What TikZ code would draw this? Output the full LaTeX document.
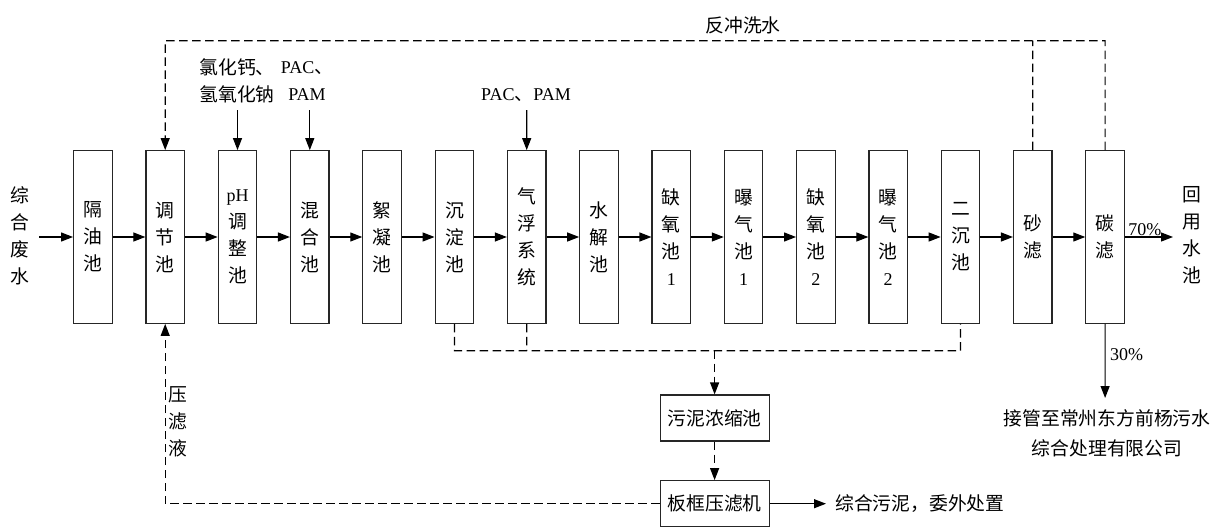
\documentclass[tikz,border=0pt]{standalone}
\usepackage{fontspec}
\setmainfont{Noto Sans CJK SC}
\newfontfamily\enf{Liberation Serif}
\newcommand\lat[1]{{\enf\fontsize{18}{27}\selectfont #1}}
\usetikzlibrary{arrows.meta}
\begin{document}
\begin{tikzpicture}[x=1pt,y=-1pt,
  every node/.style={font=\fontsize{18.8}{27}\selectfont, inner sep=0pt},
  tank/.style={draw=black!85, line width=1.2pt, minimum width=38.5pt, minimum height=172.6pt, align=center},
  sbox/.style={draw=black!85, line width=1.2pt, minimum width=109pt, minimum height=46pt},
  arr/.style={line width=1.2pt, -{Triangle[length=12pt,width=9pt]}},
  dline/.style={line width=1.2pt, dash pattern=on 8.5pt off 4.5pt},
  darr/.style={dline, -{Triangle[length=12pt,width=9pt]}},
]
\useasboundingbox (0,0) rectangle (1217,527);
\fill[white] (0,0) rectangle (1217,527);

% process tanks
\foreach \i/\t in {0/{隔\\油\\池}, 1/{调\\节\\池}, 2/{\lat{pH}\\调\\整\\池}, 3/{混\\合\\池},
  4/{絮\\凝\\池}, 5/{沉\\淀\\池}, 6/{气\\浮\\系\\统}, 7/{水\\解\\池},
  8/{缺\\氧\\池\\\lat{1}}, 9/{曝\\气\\池\\\lat{1}}, 10/{缺\\氧\\池\\\lat{2}},
  11/{曝\\气\\池\\\lat{2}}, 12/{二\\沉\\池}, 13/{砂\\滤}, 14/{碳\\滤}}
  \node[tank] (b\i) at ({92.9+72.3*\i},237) {\t};

\foreach \i [evaluate=\i as \j using int(\i+1)] in {0,...,13}
  \draw[arr] (b\i.east) -- (b\j.west);

% input
\node[align=center] (in0) at (20,236) {综\\合\\废\\水};
\coordinate (inS) at (39,237);
\draw[arr] (inS) -- (b0.west);

% output 70%
\coordinate (outE) at (1173,237);
\draw[arr] (b14.east) -- (outE) node[midway, above=1pt, xshift=-4pt] (p70) {\lat{70\%}};
\node[align=center] (reuse) at (1192,235) {回\\用\\水\\池};

% chemicals
\node[align=center] (chem1) at (237,81) {氯化钙、\\氢氧化钠};
\node[align=center] (chem2) at (307,81) {\lat{PAC}、\\\lat{PAM}};
\node (chem3) at (526,95) {\lat{PAC}、\lat{PAM}};
\coordinate (c1) at (237.5,110);
\coordinate (c2) at (309.8,110);
\coordinate (c3) at (526.7,110);
\draw[arr] (c1) -- (b2.north);
\draw[arr] (c2) -- (b3.north);
\draw[arr] (c3) -- (b6.north);

% backwash
\coordinate (tR) at (1105.1,40.7);
\coordinate (tS) at (1032.8,40.7);
\coordinate (tL) at (165.2,40.7);
\draw[darr] (b14.north) -- (tR) -- (tL) -- (b1.north);
\draw[dline] (b13.north) -- (tS);
\node (bw) at (743,25) {反冲洗水};

% sludge collection
\coordinate (s5) at (454.4,350.7);
\coordinate (s6) at (526.7,350.7);
\coordinate (s12) at (960.5,350.7);
\coordinate (sM) at (714.6,350.7);
\draw[dline] (b5.south) -- (s5) -- (s12) -- (b12.south);
\draw[dline] (b6.south) -- (s6);

\node[sbox] (thick) at (714.6,418) {污泥浓缩池};
\node[sbox] (press) at (714.6,503.7) {板框压滤机};
\draw[darr] (sM) -- (thick.north);
\draw[darr] (thick.south) -- (press.north);

% filtrate return
\coordinate (fL) at (165.2,503.7);
\draw[darr] (press.west) -- (fL) -- (b1.south);
\node[align=center] (filt) at (177.5,421.5) {压\\滤\\液};

% sludge out
\coordinate (pE) at (826,503.7);
\draw[arr] (press.east) -- (pE);
\node[anchor=west] (sout) at (835,503.7) {综合污泥，委外处置};

% 30% discharge
\coordinate (dE) at (1105.1,398);
\draw[arr] (b14.south) -- (dE);
\node[anchor=west] (p30) at (1110,355) {\lat{30\%}};
\node[align=center, font=\fontsize{18.8}{30}\selectfont] (disc) at (1107,433) {接管至常州东方前杨污水\\综合处理有限公司};
\end{tikzpicture}
\end{document}
